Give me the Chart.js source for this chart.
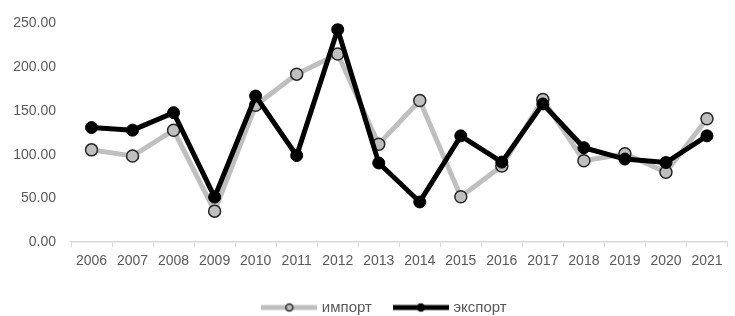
<!DOCTYPE html>
<html lang="ru">
<head>
    <meta charset="UTF-8">
    <title>импорт / экспорт</title>
    <script src="https://cdn.jsdelivr.net/npm/chart.js@4.4.1/dist/chart.umd.min.js"></script>
    <style>
        html, body { margin: 0; padding: 0; background: #fff; }
    </style>
</head>
<body>
<canvas id="chart" width="735" height="316"></canvas>
<script>
  // data
  const years = ['2006', '2007', '2008', '2009', '2010', '2011', '2012', '2013',
    '2014', '2015', '2016', '2017', '2018', '2019', '2020', '2021'];
  const importValues = [105.5, 98.5, 128, 35.5, 156.5, 192, 215, 112,
    162, 52, 87, 163, 93, 101, 80, 141];
  const exportValues = [131, 128, 148, 51.5, 167, 99, 243, 90.5,
    46, 121.5, 91.5, 158, 108, 95, 91, 121.5];
  const yTicks = [0, 50, 100, 150, 200, 250];

  const grayLine = '#bfbfbf';
  const darkEdge = '#262626';

  // small picture of line + marker for the legend
  function legendIcon(lineColor, dotFill, dotEdge) {
    const c = document.createElement('canvas');
    c.width = 56;
    c.height = 14;
    const g = c.getContext('2d');
    g.strokeStyle = lineColor;
    g.lineWidth = 5;
    g.beginPath();
    g.moveTo(0, 7);
    g.lineTo(56, 7);
    g.stroke();
    g.beginPath();
    g.arc(28, 7, 3.5, 0, Math.PI * 2);
    g.fillStyle = dotFill;
    g.fill();
    g.lineWidth = 1.5;
    g.strokeStyle = dotEdge;
    g.stroke();
    return c;
  }
  const icons = [legendIcon(grayLine, grayLine, darkEdge), legendIcon('#000', '#000', '#000')];

  // the legend sits a bit right of centre in the original
  const nudgeLegend = {
    id: 'nudgeLegend',
    afterLayout(chart) {
      chart.legend.left += 18;
      chart.legend.right += 18;
    }
  };

  new Chart(document.getElementById('chart'), {
    type: 'line',
    data: {
      labels: years,
      datasets: [{
        label: 'импорт',
        data: importValues,
        order: 1,
        borderColor: grayLine,
        borderWidth: 5,
        pointRadius: 6,
        pointBackgroundColor: grayLine,
        pointBorderColor: darkEdge,
        pointBorderWidth: 1.5,
        tension: 0
      }, {
        label: 'экспорт',
        data: exportValues,
        order: 0,
        borderColor: '#000',
        borderWidth: 5,
        pointRadius: 6,
        pointBackgroundColor: '#000',
        pointBorderColor: '#000',
        pointBorderWidth: 1,
        tension: 0
      }]
    },
    plugins: [nudgeLegend],
    options: {
      responsive: false,
      animation: false,
      layout: { padding: { top: 14, right: 0, bottom: -9, left: 0 } },
      plugins: {
        tooltip: { enabled: false },
        legend: {
          position: 'bottom',
          labels: {
            color: '#595959',
            font: { family: 'Liberation Sans', size: 15 },
            usePointStyle: true,
            pointStyleWidth: 50,
            padding: 24,
            generateLabels(chart) {
              const items = Chart.defaults.plugins.legend.labels.generateLabels(chart);
              items.sort((a, b) => a.datasetIndex - b.datasetIndex);
              items.forEach(it => { it.pointStyle = icons[it.datasetIndex]; });
              return items;
            }
          }
        }
      },
      scales: {
        x: {
          offset: true,
          grid: {
            offset: true,
            drawOnChartArea: false,
            color: '#d9d9d9',
            tickLength: 5,
            tickColor: '#d9d9d9'
          },
          border: { color: '#d9d9d9', width: 1.5 },
          ticks: {
            color: '#595959',
            font: { family: 'Liberation Sans', size: 14 },
            maxRotation: 0,
            autoSkip: false,
            padding: 6
          }
        },
        y: {
          min: 0,
          max: 250,
          afterFit(scale) { scale.width = 71; },
          afterBuildTicks(scale) { scale.ticks = yTicks.map(v => ({ value: v })); },
          grid: { display: false, drawTicks: false },
          border: { display: false },
          ticks: {
            color: '#595959',
            font: { family: 'Liberation Sans', size: 14 },
            padding: 15,
            callback: v => v.toFixed(2)
          }
        }
      }
    }
  });
</script>
</body>
</html>
